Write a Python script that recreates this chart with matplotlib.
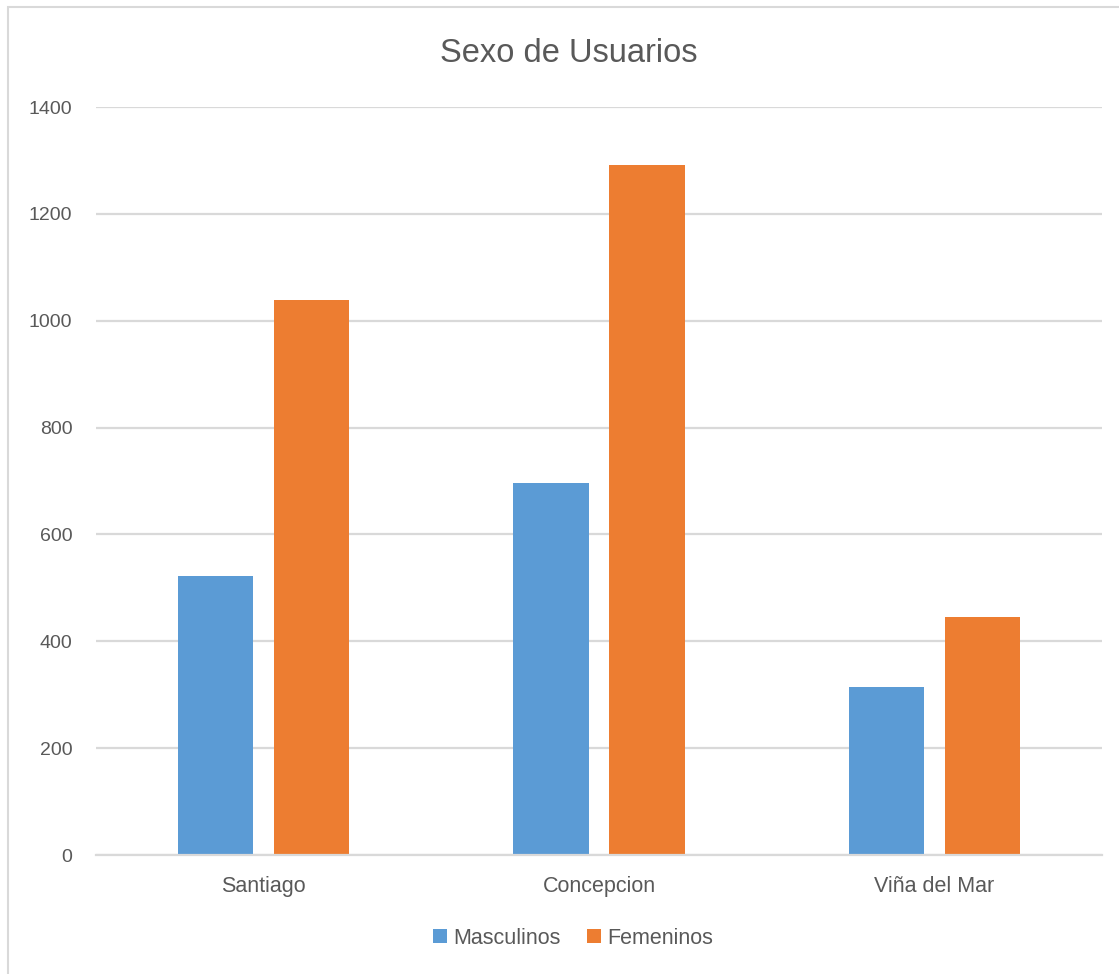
import numpy as np
import matplotlib
matplotlib.use("Agg")
import matplotlib.pyplot as plt
from matplotlib.patches import Rectangle

plt.rcParams['font.family'] = ['Liberation Sans Narrow', 'Liberation Sans', 'DejaVu Sans']

ciudades = ['Santiago', 'Concepcion', 'Viña del Mar']
masculinos = [522, 696, 314]
femeninos = [1039, 1291, 445]
y_ticks = [0, 200, 400, 600, 800, 1000, 1200, 1400]

azul = '#5B9BD5'
naranja = '#ED7D31'
texto = '#595959'
grilla = '#D9D9D9'

fig = plt.figure(figsize=(11.19, 9.74), dpi=100)
ax = fig.add_axes([96 / 1119, 1 - 855 / 974, (1102 - 96) / 1119, (855 - 107) / 974])

x = np.arange(len(ciudades))
ancho = 0.224
desp = 0.143
ax.bar(x - desp, masculinos, ancho, color=azul, label='Masculinos', zorder=3)
ax.bar(x + desp, femeninos, ancho, color=naranja, label='Femeninos', zorder=3)

ax.set_xlim(-0.5, 2.5)
ax.set_ylim(0, 1400)
ax.set_yticks(y_ticks)
ax.set_xticks(x)
ax.set_xticklabels(ciudades)
ax.grid(axis='y', color=grilla, linewidth=1.6, zorder=0)
ax.tick_params(axis='y', length=0, pad=17, labelsize=14, labelcolor=texto)
ax.tick_params(axis='x', length=0, pad=15, labelsize=15.5, labelcolor=texto)
for s in ['top', 'right', 'left']:
    ax.spines[s].set_visible(False)
ax.spines['bottom'].set_color(grilla)
ax.spines['bottom'].set_linewidth(1.6)
ax.spines['bottom'].set_zorder(4)

fig.text(569 / 1119, 1 - 53 / 974, 'Sexo de Usuarios', ha='center', va='center',
         fontsize=23.5, color=texto)

leg = fig.legend(loc='center', bbox_to_anchor=(573 / 1119, 1 - 938 / 974), ncol=2,
                 frameon=False, fontsize=15.5, handlelength=0.65, handleheight=0.65,
                 handletextpad=0.3, columnspacing=1.2)
for t in leg.get_texts():
    t.set_color(texto)

# chart frame
fig.patches.append(Rectangle((8 / 1119, -0.01), 1.1, 1 - 7 / 974 + 0.01,
                             transform=fig.transFigure, fill=False,
                             edgecolor='#D9D9D9', linewidth=1.5))

fig.savefig('out.png', dpi=100)
